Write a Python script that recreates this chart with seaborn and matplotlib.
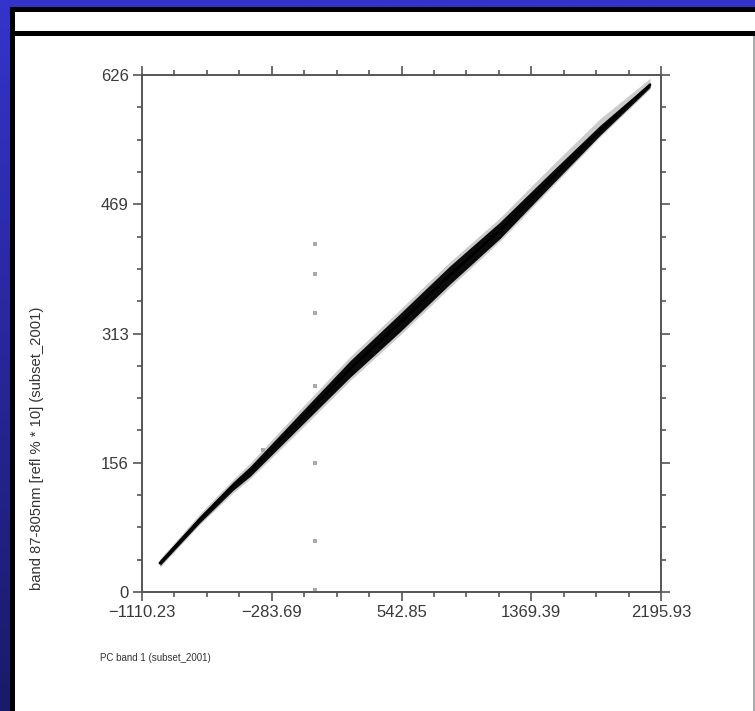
import numpy as np
import pandas as pd
import matplotlib
matplotlib.use("Agg")
import matplotlib.pyplot as plt
import seaborn as sns
from matplotlib.colors import LinearSegmentedColormap
from matplotlib.patches import Rectangle
from matplotlib.ticker import FixedLocator

# axis ticks as printed on the chart
x_ticks = [-1110.23, -283.69, 542.85, 1369.39, 2195.93]
x_labels = ["−1110.23", "−283.69", "542.85", "1369.39", "2195.93"]
y_ticks = [0, 156.5, 313, 469.5, 626]
y_labels = ["0", "156", "313", "469", "626"]

# scatter cloud: centre line and thickness
band_x = [-996, -741, -531, -422, -104, 215, 533, 852, 1170, 1489, 1807, 2126]
band_mid = [35, 88, 128, 146, 208, 270, 326, 384, 438, 499, 559, 614]
band_half = [3, 4, 5, 6, 8, 10, 11, 11, 10, 8, 6, 3]
halo_low = [5, 6, 8, 9, 12, 14, 15, 15, 13, 11, 8, 5]
halo_high = [5, 7, 8, 10, 13, 15, 16, 16, 15, 15, 14, 8]

# stray pixels away from the cloud
stray_x = [-8, -8, -8, -8, -8, -8, -8, -339]
stray_y = [421, 385, 338, 249, 156, 62, 2, 172]

W, H = 755, 711

sns.set_theme(style="white")
plt.rcParams['font.family'] = ['Liberation Sans', 'DejaVu Sans']

fig = plt.figure(figsize=(W / 100, H / 100), dpi=100)

# blue slide frame
bg = fig.add_axes([0, 0, 1, 1])
bg.axis('off')
cmap = LinearSegmentedColormap.from_list('frame', ['#3434cc', '#1a1a6a'])
bg.imshow(np.linspace(0, 1, 256).reshape(-1, 1), cmap=cmap, aspect='auto',
          extent=[0, 1, 0, 1])
bg.set_xlim(0, 1)
bg.set_ylim(0, 1)


def rect(x0, y0, x1, y1, c):
    bg.add_patch(Rectangle((x0 / W, 1 - y1 / H), (x1 - x0) / W, (y1 - y0) / H,
                           color=c, lw=0))


rect(10, 7, W, H, 'black')
rect(15, 12, W, 31, 'white')
rect(15, 36, W, H, 'white')
rect(753, 36, W, H, '#aaaaaa')

ax = fig.add_axes([142 / W, 1 - 592 / H, 519 / W, 517 / H])
ax.set_facecolor('white')


def band_frame(low, high):
    rows = []
    for x, m, lo, hi in zip(band_x, band_mid, low, high):
        rows.append({'x': x, 'y': m - lo})
        rows.append({'x': x, 'y': m + hi})
    return pd.DataFrame(rows)


sns.lineplot(data=band_frame(halo_low, halo_high), x='x', y='y',
             estimator='mean', errorbar=('pi', 100), color='#808080', lw=0,
             err_kws={'alpha': 0.4, 'lw': 0}, ax=ax)
sns.lineplot(data=band_frame(band_half, band_half), x='x', y='y',
             estimator='mean', errorbar=('pi', 100), color='black', lw=2,
             err_kws={'alpha': 0.95, 'lw': 0}, ax=ax)
sns.scatterplot(x=stray_x, y=stray_y, color='#aaaaaa', s=6, marker='s',
                linewidth=0, ax=ax)

ax.set_xlim(x_ticks[0], x_ticks[-1])
ax.set_ylim(y_ticks[0], y_ticks[-1])
ax.set_xticks(x_ticks, x_labels)
ax.set_yticks(y_ticks, y_labels)
ax.xaxis.set_minor_locator(FixedLocator(np.linspace(x_ticks[0], x_ticks[-1], 17)))
ax.yaxis.set_minor_locator(FixedLocator(np.linspace(y_ticks[0], y_ticks[-1], 17)))
ax.set_xlabel('')
ax.set_ylabel('')

for s in ax.spines.values():
    s.set_visible(True)
    s.set_color('#555555')
    s.set_linewidth(1.4)

ax.tick_params(which='both', direction='out', top=True, right=True,
               bottom=True, left=True, color='#555555', width=1.2,
               labelsize=12, labelcolor='#3a3a3a')
ax.tick_params(which='major', length=6.5, pad=3)
ax.tick_params(which='minor', length=3.5)

fig.text(100 / W, 1 - 658 / H, 'PC band 1 (subset_2001)', fontsize=7,
         ha='left', va='center', color='#333333')
fig.text(37 / W, 1 - 448 / H, 'band 87-805nm [refl % * 10] (subset_2001)',
         fontsize=10.6, rotation=90, ha='center', va='center', color='#333333')

fig.savefig('out.png', dpi=100)
